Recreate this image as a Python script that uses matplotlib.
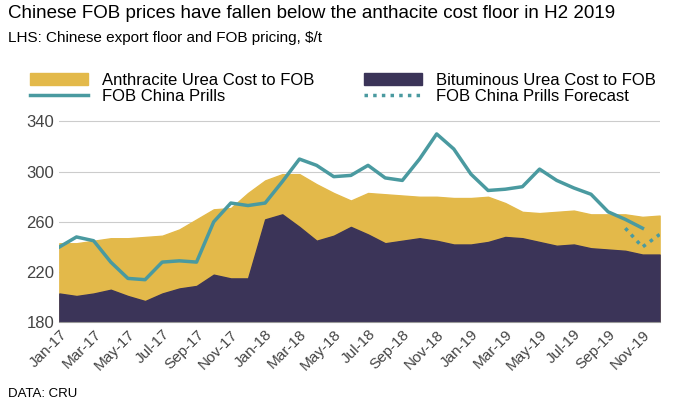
# Import necessary libraries
import pandas as pd
import matplotlib.pyplot as plt

plt.rcParams['font.family'] = ['Liberation Sans', 'DejaVu Sans']

# Monthly cost and price data, $/t
months = pd.date_range('2017-01-01', '2019-12-01', freq='MS')
labels = [m.strftime('%b-%y') for m in months]

anthracite = [243, 243, 245, 247, 247, 248, 249, 254, 262, 270, 271, 283,
              293, 298, 298, 290, 283, 277, 283, 282, 281, 280, 280, 279,
              279, 280, 275, 268, 267, 268, 269, 266, 266, 266, 264, 265]
bituminous = [203, 201, 203, 206, 201, 197, 203, 207, 209, 218, 215, 215,
              262, 266, 256, 245, 249, 256, 250, 243, 245, 247, 245, 242,
              242, 244, 248, 247, 244, 241, 242, 239, 238, 237, 234, 234]
fob = [240, 248, 245, 228, 215, 214, 228, 229, 228, 260, 275, 273,
       275, 292, 310, 305, 296, 297, 305, 295, 293, 310, 330, 318,
       298, 285, 286, 288, 302, 293, 287, 282, 268, 262, 255]
forecast = [255, 240, 250]  # Oct-19 to Dec-19

x = list(range(len(months)))

plt.figure(figsize=(6.98, 4.03), dpi=100)
a = plt.fill_between(x, 180, anthracite, color='#e3b94a', label='Anthracite Urea Cost to FOB')
b = plt.fill_between(x, 180, bituminous, color='#3b3458', label='Bituminous Urea Cost to FOB')
c, = plt.plot(x[:len(fob)], fob, color='#4a9aa0', linewidth=2.5, label='FOB China Prills')
d, = plt.plot(x[-3:], forecast, color='#4a9aa0', linewidth=2.5, linestyle=(0, (1, 1.5)),
              label='FOB China Prills Forecast')

plt.ylim(180, 350)
plt.xlim(0, len(x) - 1)
plt.yticks([180, 220, 260, 300, 340], fontsize=12, color='#444444')
plt.xticks(x[::2], labels[::2], rotation=45, ha='right', rotation_mode='anchor',
           fontsize=11, color='#444444')
plt.grid(axis='y', color='#cccccc', linewidth=0.8)
plt.gca().set_axisbelow(True)
for s in ['top', 'right', 'left']:
    plt.gca().spines[s].set_visible(False)
plt.gca().spines['bottom'].set_color('#999999')
plt.tick_params(length=0)

# row-wise legend: column 1 gets a, c; column 2 gets b, d
plt.legend([a, c, b, d], [h.get_label() for h in [a, c, b, d]], ncol=2, loc='lower left',
           bbox_to_anchor=(-0.06, 0.99), frameon=False, fontsize=12, handlelength=3.5,
           columnspacing=3, labelspacing=0.1, borderaxespad=0)

plt.figtext(0.012, 0.955, 'Chinese FOB prices have fallen below the anthacite cost floor in H2 2019',
            fontsize=13.5)
plt.figtext(0.012, 0.895, 'LHS: Chinese export floor and FOB pricing, $/t', fontsize=11)
plt.figtext(0.012, 0.015, 'DATA: CRU', fontsize=9.5)

plt.subplots_adjust(left=0.085, right=0.945, top=0.73, bottom=0.2)
plt.savefig('out.png')
